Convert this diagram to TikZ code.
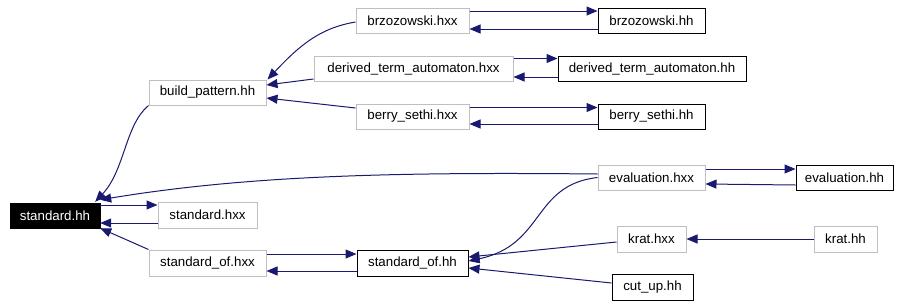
\documentclass[tikz,border=0pt]{standalone}
\usepackage{fontspec}
\setmainfont{Liberation Sans}
\usepackage{tikz}
\usetikzlibrary{positioning,arrows.meta,calc}

\definecolor{edgeblue}{RGB}{25,25,112}
\definecolor{boxgray}{RGB}{191,191,191}

\begin{document}
\begin{tikzpicture}[
  x=1pt,y=-1pt,
  filenode/.style={rectangle,draw=#1,line width=1pt,fill=white,inner sep=0pt,minimum height=25,font=\fontsize{13.3}{15}\selectfont},
  rootnode/.style={rectangle,draw=black,fill=black,text=white,inner sep=0pt,minimum height=25,font=\fontsize{13.3}{15}\selectfont},
  dep/.style={-{Triangle[length=11pt,width=9pt]},line width=1pt,edgeblue},
]
\useasboundingbox (0,0) rectangle (903,306);

% ==== left column ====
\node[rootnode,minimum width=90] (stdhh) at (55,215.5) {standard.hh};
\node[filenode=boxgray,minimum width=99,minimum height=26] (stdhxx) at (207.5,215) {standard.hxx};
\node[filenode=boxgray,minimum width=117,minimum height=26] (stdofhxx) at (207.5,263) {standard\_of.hxx};
\node[filenode=boxgray,minimum width=117] (bphh) at (207.5,92.5) {build\_pattern.hh};

% ==== middle column ====
\node[filenode=boxgray,minimum width=113] (brzhxx) at (412.5,20.5) {brzozowski.hxx};
\node[filenode=boxgray,minimum width=199] (dtahxx) at (413.5,68.5) {derived\_term\_automaton.hxx};
\node[filenode=boxgray,minimum width=113] (bshxx) at (412.5,116.5) {berry\_sethi.hxx};
\node[filenode=black,minimum width=111,minimum height=26] (stdofhh) at (412.5,263) {standard\_of.hh};

% ==== right columns ====
\node[filenode=black,minimum width=107] (brzhh) at (651.5,20.5) {brzozowski.hh};
\node[filenode=black,minimum width=188] (dtahh) at (652,68.5) {derived\_term\_automaton.hh};
\node[filenode=black,minimum width=107] (bshh) at (651.5,116.5) {berry\_sethi.hh};
\node[filenode=boxgray,minimum width=107] (evalhxx) at (651.5,177.5) {evaluation.hxx};
\node[filenode=black,minimum width=97] (evalhh) at (844.5,177.5) {evaluation.hh};
\node[filenode=boxgray,minimum width=69,minimum height=26] (krathxx) at (651.5,239) {krat.hxx};
\node[filenode=boxgray,minimum width=63,minimum height=26] (krathh) at (845.5,239) {krat.hh};
\node[filenode=black,minimum width=81,minimum height=26] (cuthh) at (652.5,287) {cut\_up.hh};

% Includes into standard.hh
\draw[dep] (stdhh.east|-0,205) -- (stdhxx.west|-0,205);
\draw[dep] (stdhxx.west|-0,223) -- (stdhh.east|-0,223);
\draw[dep] (stdofhxx.north west) -- (stdhh.south east);
\draw[dep] (bphh.south west) .. controls (125,125) and (125,170) .. ($(stdhh.north east)+(-5,-1)$);
\draw[dep] ($(evalhxx.west)+(0,-3.5)$) .. controls (400,172) and (250,175) .. ($(stdhh.north east)+(0,-3)$);

% standard_of pair
\draw[dep] (stdofhxx.east|-0,254) -- (stdofhh.west|-0,254);
\draw[dep] (stdofhh.west|-0,271) -- (stdofhxx.east|-0,271);

% into build_pattern.hh
\draw[dep] ($(brzhxx.west)+(0,1.5)$) .. controls (320,28) and (300,45) .. ($(bphh.north east)+(1,0)$);
\draw[dep] ($(dtahxx.west)+(0,10.5)$) -- ($(bphh.east)+(0,-7.5)$);
\draw[dep] ($(bshxx.west)+(0,-8.5)$) -- ($(bphh.east)+(0,5.5)$);

% .hxx <-> .hh pairs
\draw[dep] (brzhxx.east|-0,11) -- (brzhh.west|-0,11);
\draw[dep] (brzhh.west|-0,29) -- (brzhxx.east|-0,29);
\draw[dep] (dtahxx.east|-0,58.5) -- (dtahh.west|-0,58.5);
\draw[dep] (dtahh.west|-0,77) -- (dtahxx.east|-0,77);
\draw[dep] (bshxx.east|-0,107.5) -- (bshh.west|-0,107.5);
\draw[dep] (bshh.west|-0,124) -- (bshxx.east|-0,124);
\draw[dep] (evalhxx.east|-0,169) -- (evalhh.west|-0,169);
\draw[dep] (evalhh.west|-0,185) -- (evalhxx.east|-0,184);

% into standard_of.hh
\draw[dep] (evalhxx.west) .. controls (532,185) and (545,245) .. ($(stdofhh.east)+(0,-2)$);
\draw[dep] ($(krathxx.west)+(0,3)$) -- ($(stdofhh.east)+(0,-6)$);
\draw[dep] ($(cuthh.west)+(0,-4)$) -- ($(stdofhh.east)+(0,5)$);
\draw[dep] (krathh) -- (krathxx);

\end{tikzpicture}
\end{document}
